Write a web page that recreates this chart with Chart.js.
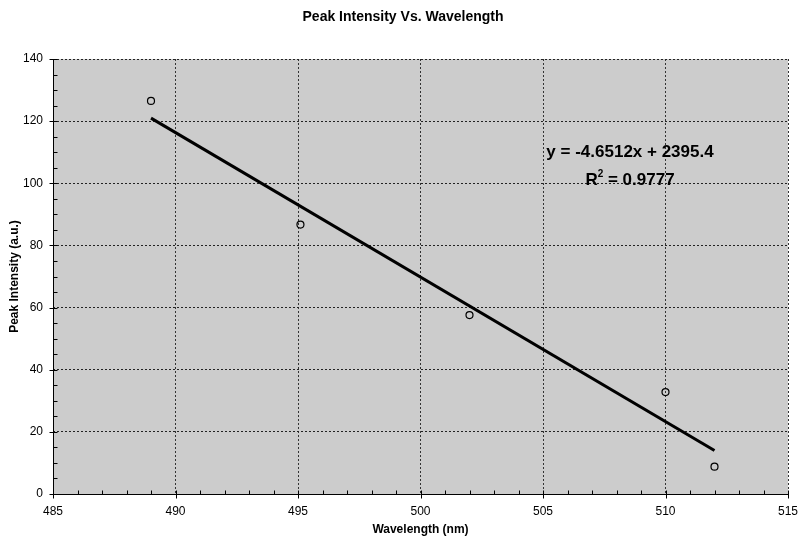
<!DOCTYPE html>
<html><head><meta charset="utf-8">
<script src="https://cdn.jsdelivr.net/npm/chart.js@4"></script>
<style>html,body{margin:0;padding:0;background:#fff}#wrap{width:798px;height:539px}</style>
</head><body><div id="wrap"><canvas id="c" width="798" height="539"></canvas></div>
<script>
const wavelength = [489, 495.1, 502, 510, 512];
const intensity = [126.5, 86.7, 57.6, 32.8, 8.8];
const trendSlope = -4.6512;
const trendIntercept = 2395.4;
const trendX = [489, 512];
const xTicks = [485, 490, 495, 500, 505, 510, 515];
const yTicks = [0, 20, 40, 60, 80, 100, 120, 140];
const titleText = 'Peak Intensity Vs. Wavelength';
const xTitle = 'Wavelength (nm)';
const yTitle = 'Peak Intensity (a.u.)';
const eqText = 'y = -4.6512x + 2395.4';
const r2Value = '0.9777';

const trendData = trendX.map(x => ({x: x, y: trendSlope * x + trendIntercept}));
const pointData = wavelength.map((x, i) => ({x: x, y: intensity[i]}));

const FONT = 'Arial, "Liberation Sans", sans-serif';

const decor = {
  id: 'decor',
  beforeDraw(chart) {
    const {ctx, chartArea: a} = chart;
    ctx.save();
    ctx.fillStyle = '#cccccc';
    ctx.fillRect(a.left, a.top, a.right - a.left, a.bottom - a.top);
    ctx.restore();
  },
  afterDatasetsDraw(chart) {
    const {ctx, chartArea: a, scales} = chart;
    const xs = scales.x, ys = scales.y;
    ctx.save();
    ctx.strokeStyle = '#000';
    ctx.lineWidth = 1;
    ctx.beginPath();
    ctx.moveTo(Math.round(a.left) + 0.5, a.top);
    ctx.lineTo(Math.round(a.left) + 0.5, Math.round(a.bottom) + 0.5);
    ctx.lineTo(a.right, Math.round(a.bottom) + 0.5);
    ctx.stroke();
    ctx.beginPath();
    for (let v = xs.min; v <= xs.max + 1e-9; v += 1) {
      const px = Math.round(xs.getPixelForValue(v)) + 0.5;
      const major = Math.abs(v % 5) < 1e-9;
      const by = Math.round(a.bottom) + 0.5;
      ctx.moveTo(px, by + (major ? 4 : 0));
      ctx.lineTo(px, by - 4);
    }
    for (let v = ys.min; v <= ys.max + 1e-9; v += 5) {
      const py = Math.round(ys.getPixelForValue(v)) + 0.5;
      const major = Math.abs(v % 20) < 1e-9;
      const lx = Math.round(a.left) + 0.5;
      ctx.moveTo(lx - (major ? 4 : 0), py);
      ctx.lineTo(lx + 4, py);
    }
    ctx.stroke();
    ctx.fillStyle = '#000';
    ctx.textAlign = 'center';
    ctx.textBaseline = 'middle';
    ctx.font = 'bold 14px ' + FONT;
    ctx.fillText(titleText, 403, 17);
    ctx.font = 'bold 12px ' + FONT;
    ctx.fillText(xTitle, (a.left + a.right) / 2, 530);
    ctx.save();
    ctx.translate(15, (a.top + a.bottom) / 2);
    ctx.rotate(-Math.PI / 2);
    ctx.fillText(yTitle, 0, 0);
    ctx.restore();
    ctx.font = 'bold 17px ' + FONT;
    ctx.fillText(eqText, 630, 152);
    const r2Label = 'R';
    const rest = ' = ' + r2Value;
    const wR = ctx.measureText(r2Label).width;
    const wRest = ctx.measureText(rest).width;
    ctx.font = 'bold 10px ' + FONT;
    const wSup = ctx.measureText('2').width;
    const total = wR + wSup + wRest;
    let sx = 630 - total / 2;
    ctx.textAlign = 'left';
    ctx.font = 'bold 17px ' + FONT;
    ctx.fillText(r2Label, sx, 180);
    ctx.font = 'bold 10px ' + FONT;
    ctx.fillText('2', sx + wR, 174);
    ctx.font = 'bold 17px ' + FONT;
    ctx.fillText(rest, sx + wR + wSup, 180);
    ctx.restore();
  }
};

new Chart(document.getElementById('c'), {
  type: 'scatter',
  data: {
    datasets: [
      {
        data: trendData,
        showLine: true,
        borderColor: '#000',
        borderWidth: 3,
        pointRadius: 0,
        fill: false,
        order: 2
      },
      {
        data: pointData,
        showLine: false,
        pointRadius: 3.5,
        pointBorderWidth: 1.2,
        pointBorderColor: '#000',
        pointBackgroundColor: 'rgba(0,0,0,0)',
        order: 1
      }
    ]
  },
  options: {
    responsive: false,
    animation: false,
    events: [],
    layout: {padding: {top: 59, right: 10, left: 0, bottom: 0}},
    plugins: {legend: {display: false}, tooltip: {enabled: false}, title: {display: false}},
    scales: {
      x: {
        type: 'linear',
        min: 485, max: 515,
        afterBuildTicks: s => { s.ticks = xTicks.map(v => ({value: v})); },
        afterFit: s => { s.height = 45; s.paddingLeft = 0; s.paddingRight = 0; },
        border: {display: false, dash: [2, 2]},
        grid: {color: '#333', lineWidth: 1, drawTicks: false},
        ticks: {color: '#000', font: {family: FONT, size: 12}, padding: 10, maxRotation: 0}
      },
      y: {
        type: 'linear',
        min: 0, max: 140,
        afterBuildTicks: s => { s.ticks = yTicks.map(v => ({value: v})); },
        afterFit: s => { s.width = 53; s.paddingTop = 0; s.paddingBottom = 0; },
        border: {display: false, dash: [2, 2]},
        grid: {color: '#222', lineWidth: 1, drawTicks: false},
        ticks: {color: '#000', font: {family: FONT, size: 12}, padding: 10}
      }
    }
  },
  plugins: [decor]
});
</script>
</body></html>
